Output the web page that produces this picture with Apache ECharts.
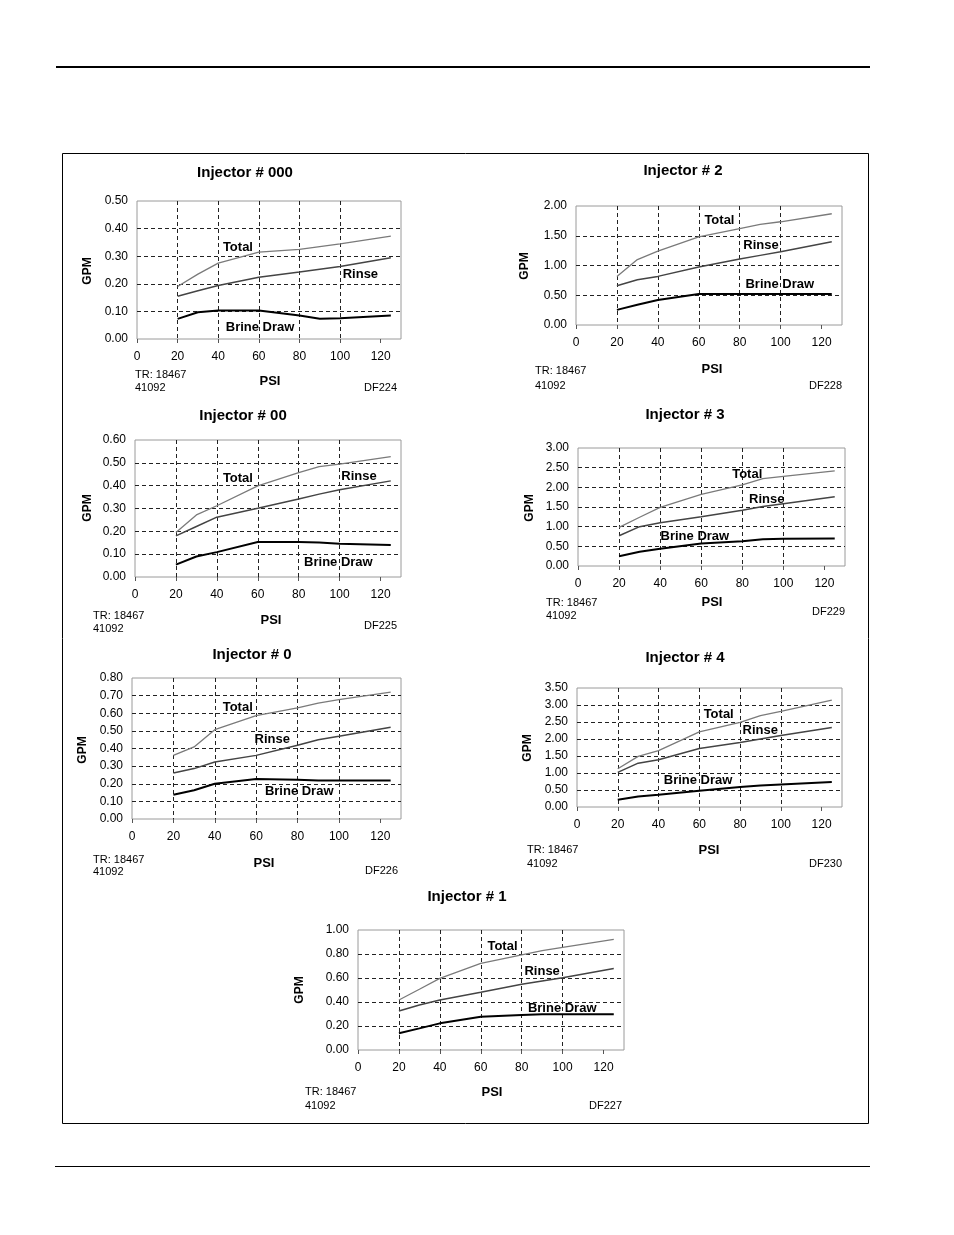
<!DOCTYPE html>
<html><head><meta charset="utf-8">
<script src="https://cdn.jsdelivr.net/npm/echarts@6/dist/echarts.min.js"></script>
<style>html,body{margin:0;padding:0;background:#fff}#c{width:954px;height:1235px}</style>
</head><body><div id="c"></div>
<script>
// ---------- DATA ----------
const psi = [20, 30, 40, 60, 80, 90, 100, 125];
const xTicks = [0, 20, 40, 60, 80, 100, 120];

const inj000_total = [0.19, 0.235, 0.275, 0.315, 0.325, 0.335, 0.345, 0.373];
const inj000_rinse = [0.155, 0.175, 0.194, 0.224, 0.243, 0.253, 0.263, 0.294];
const inj000_brine = [0.073, 0.097, 0.103, 0.103, 0.085, 0.073, 0.075, 0.085];

const inj00_total = [0.195, 0.272, 0.312, 0.399, 0.457, 0.483, 0.494, 0.527];
const inj00_rinse = [0.18, 0.221, 0.262, 0.301, 0.342, 0.363, 0.382, 0.421];
const inj00_brine = [0.054, 0.09, 0.109, 0.153, 0.153, 0.151, 0.146, 0.14];

const inj0_total = [0.361, 0.409, 0.507, 0.586, 0.630, 0.658, 0.677, 0.72];
const inj0_rinse = [0.261, 0.286, 0.323, 0.361, 0.418, 0.45, 0.469, 0.52];
const inj0_brine = [0.138, 0.163, 0.20, 0.227, 0.223, 0.219, 0.219, 0.219];

const inj1_total = [0.417, 0.506, 0.597, 0.722, 0.792, 0.828, 0.856, 0.922];
const inj1_rinse = [0.325, 0.375, 0.417, 0.481, 0.547, 0.575, 0.603, 0.68];
const inj1_brine = [0.139, 0.18, 0.222, 0.278, 0.292, 0.297, 0.297, 0.297];

const inj2_total = [0.817, 1.10, 1.24, 1.48, 1.62, 1.69, 1.735, 1.87];
const inj2_rinse = [0.66, 0.76, 0.817, 0.975, 1.11, 1.17, 1.23, 1.40];
const inj2_brine = [0.254, 0.34, 0.42, 0.52, 0.52, 0.52, 0.52, 0.52];

const inj3_total = [0.98, 1.24, 1.49, 1.82, 2.06, 2.22, 2.28, 2.42];
const inj3_rinse = [0.77, 1.0, 1.10, 1.25, 1.42, 1.51, 1.58, 1.76];
const inj3_brine = [0.25, 0.36, 0.44, 0.57, 0.63, 0.68, 0.69, 0.70];

const inj4_total = [1.127, 1.49, 1.66, 2.21, 2.49, 2.69, 2.81, 3.14];
const inj4_rinse = [1.02, 1.29, 1.39, 1.72, 1.90, 2.0, 2.10, 2.34];
const inj4_brine = [0.216, 0.31, 0.36, 0.48, 0.59, 0.63, 0.66, 0.735];

// curve-label anchor points (PSI, GPM): Total, Rinse, Brine Draw
const tagNames = ['Total', 'Rinse', 'Brine Draw'];
const inj000_tags = [[49.7, 0.333], [110, 0.234], [60.6, 0.042]];
const inj00_tags  = [[50.3, 0.432], [109.5, 0.44], [99.4, 0.066]];
const inj0_tags   = [[51.1, 0.634], [67.8, 0.45], [80.8, 0.157]];
const inj1_tags   = [[70.6, 0.867], [90, 0.658], [99.8, 0.347]];
const inj2_tags   = [[70.1, 1.75], [90.4, 1.34], [99.6, 0.68]];
const inj3_tags   = [[82.4, 2.34], [91.9, 1.70], [56.9, 0.74]];
const inj4_tags   = [[69.5, 2.72], [89.9, 2.25], [59.4, 0.775]];

const trText = 'TR: 18467';
const dateText = '41092';

// ---------- LAYOUT ----------
const FONT = '"Liberation Sans", Arial, sans-serif';
const charts = [
  {title: 'Injector # 000', t: inj000_total, r: inj000_rinse, b: inj000_brine, tags: inj000_tags, ymax: 0.5, yint: 0.1, code: 'DF224',
   g: {l: 137, r: 401, t: 201, b: 339}, titleXY: [245, 173], trXY: [135, 375], dateY: 388, codeXY: [397, 388], psiXY: [270, 381], gpmXY: [88, 271]},
  {title: 'Injector # 2', t: inj2_total, r: inj2_rinse, b: inj2_brine, tags: inj2_tags, ymax: 2.0, yint: 0.5, code: 'DF228',
   g: {l: 576, r: 842, t: 206, b: 325}, titleXY: [683, 171], trXY: [535, 371], dateY: 386, codeXY: [842, 386], psiXY: [712, 369], gpmXY: [525, 266]},
  {title: 'Injector # 00', t: inj00_total, r: inj00_rinse, b: inj00_brine, tags: inj00_tags, ymax: 0.6, yint: 0.1, code: 'DF225',
   g: {l: 135, r: 401, t: 440, b: 577}, titleXY: [243, 416], trXY: [93, 616], dateY: 629, codeXY: [397, 626], psiXY: [271, 620], gpmXY: [88, 508]},
  {title: 'Injector # 3', t: inj3_total, r: inj3_rinse, b: inj3_brine, tags: inj3_tags, ymax: 3.0, yint: 0.5, code: 'DF229',
   g: {l: 578, r: 845, t: 448, b: 566}, titleXY: [685, 415], trXY: [546, 603], dateY: 616, codeXY: [845, 612], psiXY: [712, 602], gpmXY: [530, 508]},
  {title: 'Injector # 0', t: inj0_total, r: inj0_rinse, b: inj0_brine, tags: inj0_tags, ymax: 0.8, yint: 0.1, code: 'DF226',
   g: {l: 132, r: 401, t: 678, b: 819}, titleXY: [252, 655], trXY: [93, 860], dateY: 872, codeXY: [398, 871], psiXY: [264, 863], gpmXY: [83, 750]},
  {title: 'Injector # 4', t: inj4_total, r: inj4_rinse, b: inj4_brine, tags: inj4_tags, ymax: 3.5, yint: 0.5, code: 'DF230',
   g: {l: 577, r: 842, t: 688, b: 807}, titleXY: [685, 658], trXY: [527, 850], dateY: 864, codeXY: [842, 864], psiXY: [709, 850], gpmXY: [528, 748]},
  {title: 'Injector # 1', t: inj1_total, r: inj1_rinse, b: inj1_brine, tags: inj1_tags, ymax: 1.0, yint: 0.2, code: 'DF227',
   g: {l: 358, r: 624, t: 930, b: 1050}, titleXY: [467, 897], trXY: [305, 1092], dateY: 1106, codeXY: [622, 1106], psiXY: [492, 1092], gpmXY: [300, 990]}
];

const pairs = (ys) => psi.map((x, i) => [x, ys[i]]);
const W = 954, H = 1235;
const grids = [], xAxes = [], yAxes = [], series = [], graphics = [];

// page decoration
graphics.push({type: 'rect', shape: {x: 56, y: 66, width: 814, height: 2}, style: {fill: '#000'}});
graphics.push({type: 'rect', shape: {x: 55, y: 1166, width: 815, height: 1}, style: {fill: '#000'}});
graphics.push({type: 'rect', shape: {x: 62.5, y: 153.5, width: 806, height: 970}, style: {fill: 'none', stroke: '#000', lineWidth: 1}});

const dash = [4, 3];
charts.forEach((c, i) => {
  grids.push({left: c.g.l, top: c.g.t, width: c.g.r - c.g.l, height: c.g.b - c.g.t,
    show: true, borderColor: '#9a9a9a', borderWidth: 1, backgroundColor: 'transparent', containLabel: false});
  xAxes.push({gridIndex: i, type: 'value', min: 0, max: 130, interval: 20,
    axisLine: {show: false},
    axisTick: {show: true, length: 4, lineStyle: {color: '#555'}, customValues: xTicks},
    axisLabel: {color: '#000', fontFamily: FONT, fontSize: 12, margin: 12, showMaxLabel: false},
    splitLine: {show: true, showMinLine: false, showMaxLine: false, lineStyle: {color: '#222', type: dash, width: 1}}
  });
  yAxes.push({gridIndex: i, type: 'value', min: 0, max: c.ymax, interval: c.yint,
    axisLine: {show: false}, axisTick: {show: false},
    axisLabel: {color: '#000', fontFamily: FONT, fontSize: 12, margin: 9, formatter: v => v.toFixed(2)},
    splitLine: {show: true, showMinLine: false, showMaxLine: false, lineStyle: {color: '#222', type: dash, width: 1}}
  });
  const common = {type: 'line', xAxisIndex: i, yAxisIndex: i, symbol: 'none', smooth: false, silent: true, animation: false};
  series.push(Object.assign({}, common, {name: c.title + ' Total', data: pairs(c.t), lineStyle: {color: '#7a7a7a', width: 1.3}}));
  series.push(Object.assign({}, common, {name: c.title + ' Rinse', data: pairs(c.r), lineStyle: {color: '#444', width: 1.5}}));
  series.push(Object.assign({}, common, {name: c.title + ' Brine Draw', data: pairs(c.b), lineStyle: {color: '#000', width: 2}}));
  series.push({type: 'scatter', xAxisIndex: i, yAxisIndex: i, symbolSize: 0, silent: true, animation: false, z: 5,
    itemStyle: {color: '#000', opacity: 1},
    data: c.tags.map((p, k) => ({value: p, name: tagNames[k]})),
    label: {show: true, position: 'inside', formatter: p => p.name, color: '#000', opacity: 1,
      textBorderWidth: 0, fontFamily: FONT, fontWeight: 'bold', fontSize: 13}
  });

  const txt = (x, y, text, font, align, extra) => Object.assign({type: 'text', x: x, y: y, silent: true,
    style: {text: text, font: font, fill: '#000', align: align, verticalAlign: 'middle'}}, extra || {});
  graphics.push(txt(c.titleXY[0], c.titleXY[1], c.title, 'bold 15px ' + FONT, 'center'));
  graphics.push(txt(c.psiXY[0], c.psiXY[1], 'PSI', 'bold 13px ' + FONT, 'center'));
  graphics.push(txt(c.gpmXY[0], c.gpmXY[1], 'GPM', 'bold 12px ' + FONT, 'center', {rotation: Math.PI / 2}));
  graphics.push(txt(c.trXY[0], c.trXY[1], trText, '11px ' + FONT, 'left'));
  graphics.push(txt(c.trXY[0], c.dateY, dateText, '11px ' + FONT, 'left'));
  graphics.push(txt(c.codeXY[0], c.codeXY[1], c.code, '11px ' + FONT, 'right'));
});

const chart = echarts.init(document.getElementById('c'), null, {renderer: 'canvas', width: W, height: H});
chart.setOption({
  backgroundColor: '#fff',
  animation: false,
  grid: grids, xAxis: xAxes, yAxis: yAxes, series: series,
  graphic: {elements: graphics}
});
</script>
</body></html>
